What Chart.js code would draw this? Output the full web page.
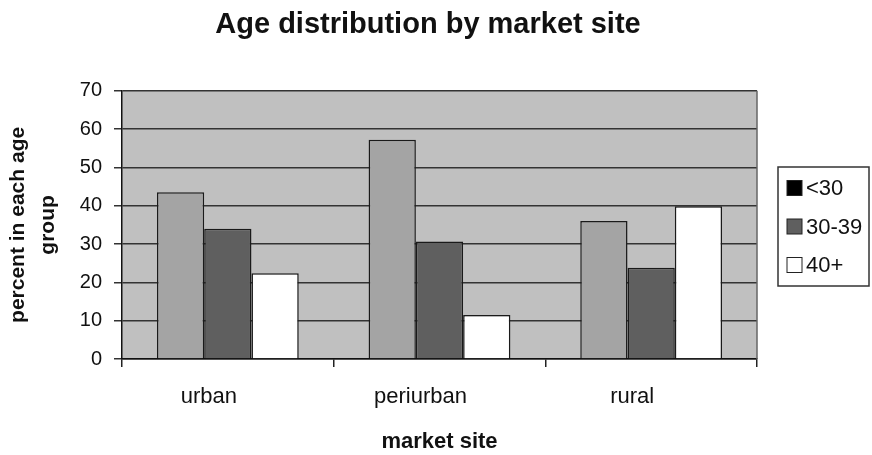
<!DOCTYPE html>
<html>
<head>
<meta charset="utf-8">
<script src="https://cdn.jsdelivr.net/npm/chart.js@4/dist/chart.umd.min.js"></script>
<style>
  html, body { margin: 0; padding: 0; background: #fff; }
  #wrap { width: 872px; height: 455px; }
</style>
</head>
<body>
<div id="wrap"><canvas id="ageChart" width="872" height="455"></canvas></div>
<script>
// data
const sites = ['urban', 'periurban', 'rural'];
const ageGroups = ['<30', '30-39', '40+'];
const under30 = [43.5, 57.2, 36.0];
const age30to39 = [34.0, 30.7, 23.8];
const age40plus = [22.4, 11.5, 39.9];
const yTicks = [0, 10, 20, 30, 40, 50, 60, 70];

// bar fills and the (odd) legend swatches of the original
const barFills = ['#a4a4a4', '#5f5f5f', '#ffffff'];
const legendFills = ['#000000', '#5f5f5f', '#ffffff'];

const FONT = "'Liberation Sans', Arial, sans-serif";

// grey plot background + right edge
const plotBack = {
  id: 'plotBack',
  beforeDraw(chart) {
    const a = chart.chartArea, c = chart.ctx;
    c.save();
    c.fillStyle = '#c0c0c0';
    c.fillRect(a.left, a.top, a.right - a.left, a.bottom - a.top);
    c.restore();
  },
  afterDraw(chart) {
    const a = chart.chartArea, c = chart.ctx;
    c.save();
    c.strokeStyle = '#666';
    c.lineWidth = 1.5;
    c.beginPath();
    c.moveTo(a.right, a.top);
    c.lineTo(a.right, a.bottom);
    c.stroke();
    c.restore();
  }
};

// boxed legend on the right
const boxLegend = {
  id: 'boxLegend',
  afterDraw(chart) {
    const c = chart.ctx;
    const x0 = 778, y0 = 167, w = 91, h = 119;
    c.save();
    c.strokeStyle = '#333';
    c.lineWidth = 1.5;
    c.strokeRect(x0, y0, w, h);
    c.font = '22px ' + FONT;
    c.textBaseline = 'middle';
    chart.data.datasets.forEach(function (ds, i) {
      const cy = 188 + i * 38.5;
      c.fillStyle = legendFills[i];
      c.fillRect(787, cy - 7.5, 15, 15);
      c.strokeStyle = '#222';
      c.lineWidth = 1;
      c.strokeRect(787, cy - 7.5, 15, 15);
      c.fillStyle = '#111';
      c.fillText(ds.label, 806, cy + 1);
    });
    c.restore();
  }
};

const ctx = document.getElementById('ageChart').getContext('2d');
new Chart(ctx, {
  type: 'bar',
  data: {
    labels: sites,
    datasets: [
      { label: ageGroups[0], data: under30, backgroundColor: barFills[0] },
      { label: ageGroups[1], data: age30to39, backgroundColor: barFills[1] },
      { label: ageGroups[2], data: age40plus, backgroundColor: barFills[2] }
    ].map(function (d) {
      return Object.assign(d, { borderColor: '#1a1a1a', borderWidth: 1.5, borderSkipped: 'bottom' });
    })
  },
  options: {
    responsive: false,
    animation: false,
    devicePixelRatio: 1,
    categoryPercentage: 0.67,
    barPercentage: 1.0,
    layout: { padding: { left: 4, right: 20, top: 0, bottom: 0 } },
    plugins: {
      legend: { display: false },
      tooltip: { enabled: false },
      title: {
        display: true,
        text: 'Age distribution by market site',
        color: '#111',
        font: { family: FONT, size: 29, weight: 'bold', lineHeight: 1.2 },
        padding: { top: 8, bottom: 48 }
      }
    },
    scales: {
      x: {
        grid: { display: true, drawOnChartArea: false, drawTicks: true, tickLength: 8, color: '#222', lineWidth: 1.5 },
        border: { display: true, color: '#111', width: 1.5 },
        ticks: { color: '#111', font: { family: FONT, size: 22 }, padding: 17, labelOffset: -19 },
        title: {
          display: true,
          text: 'market site',
          color: '#111',
          font: { family: FONT, size: 22, weight: 'bold' },
          padding: { top: 12, bottom: 0 }
        },
        afterFit(scale) { scale.height = 96; }
      },
      y: {
        min: 0,
        max: 70,
        afterBuildTicks(scale) { scale.ticks = yTicks.map(function (v) { return { value: v }; }); },
        grid: { color: '#333', lineWidth: 1.5, drawTicks: true, tickLength: 8 },
        border: { display: true, color: '#111', width: 1.5 },
        ticks: { color: '#111', font: { family: FONT, size: 20 }, padding: 12 },
        title: {
          display: true,
          text: ['percent in each age', 'group'],
          color: '#111',
          font: { family: FONT, size: 21, weight: 'bold', lineHeight: 1.4 },
          padding: { top: 0, bottom: 4 }
        },
        afterFit(scale) { scale.width = 118; }
      },
      // empty right-hand axis, only reserves the room the legend sits in
      room: {
        position: 'right',
        display: true,
        grid: { display: false },
        border: { display: false },
        ticks: { display: false },
        afterFit(scale) { scale.width = 95; }
      }
    }
  },
  plugins: [plotBack, boxLegend]
});
</script>
</body>
</html>
